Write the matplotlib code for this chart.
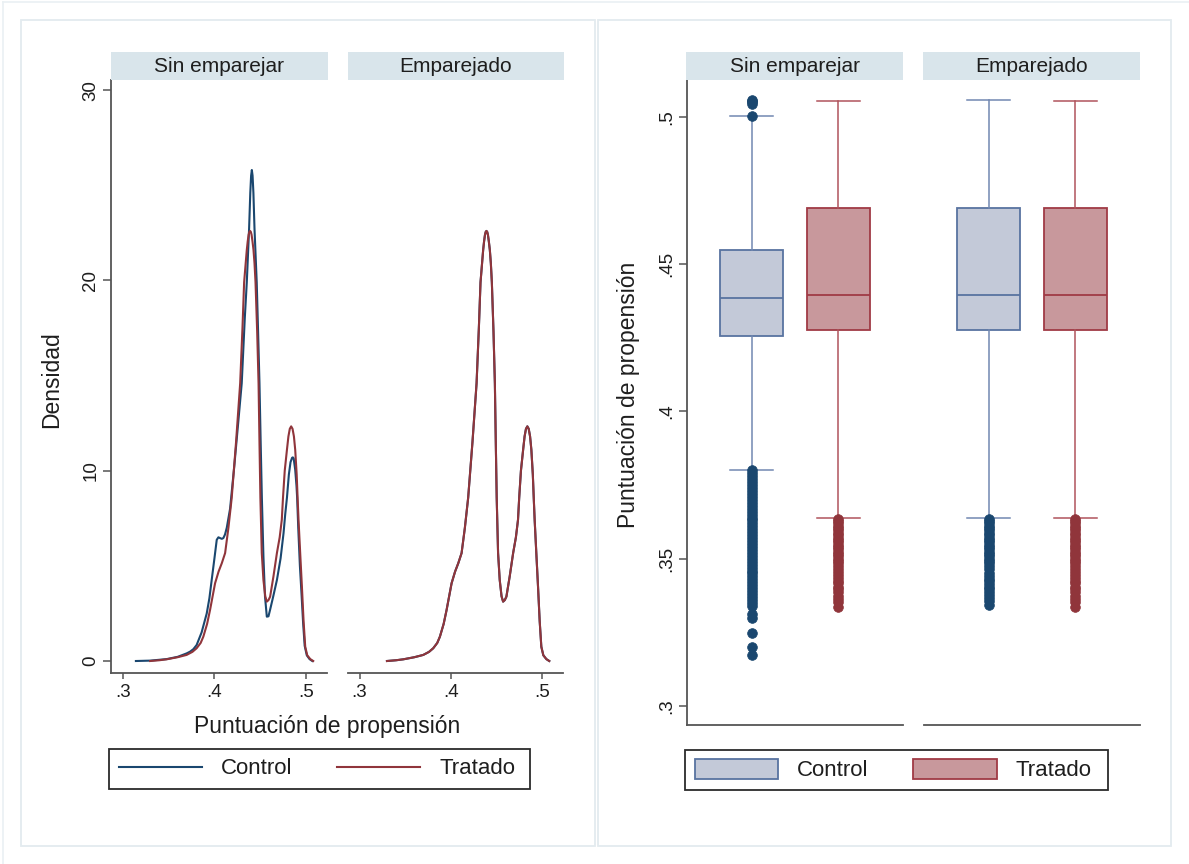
import matplotlib
matplotlib.use("Agg")
import matplotlib.pyplot as plt
from matplotlib.patches import Rectangle, Patch
from matplotlib.lines import Line2D

plt.rcParams['font.family'] = ['Liberation Sans', 'DejaVu Sans']

W, H = 1189, 864

# ---------------- data ----------------
facets = ['Sin emparejar', 'Emparejado']
groups = ['Control', 'Tratado']

dens_xticks = [0.3, 0.4, 0.5]
dens_xticklabels = ['.3', '.4', '.5']
dens_yticks = [0, 10, 20, 30]
dens_yticklabels = ['0', '10', '20', '30']

box_yticks = [0.3, 0.35, 0.4, 0.45, 0.5]
box_yticklabels = ['.3', '.35', '.4', '.45', '.5']

# kernel density, treated (same curve in both facets)
treated_x = [0.3300, 0.3400, 0.3480, 0.3600, 0.3697, 0.3760, 0.3806, 0.3850, 0.3879,
             0.3920, 0.3952, 0.3980, 0.4007, 0.4045, 0.4080, 0.4116, 0.4152, 0.4188,
             0.4235, 0.4280, 0.4305, 0.4323, 0.4340, 0.4352, 0.4362, 0.4372, 0.4380,
             0.4388, 0.4396, 0.4404, 0.4414, 0.4425, 0.4436,
             0.4447, 0.4465, 0.4480, 0.4490, 0.4500, 0.4515, 0.4533, 0.4553, 0.4570,
             0.4588, 0.4606, 0.4642, 0.4680, 0.4710, 0.4733, 0.4746, 0.4765, 0.4789,
             0.4805, 0.4820, 0.4835, 0.4850, 0.4865, 0.4879, 0.4895, 0.4905, 0.4915,
             0.4935, 0.4952, 0.4970, 0.4988, 0.5010, 0.5043, 0.5075]
treated_y = [0.00, 0.04, 0.09, 0.20, 0.32, 0.48, 0.67, 0.95, 1.28,
             1.95, 2.68, 3.40, 4.09, 4.70, 5.14, 5.67, 7.00, 8.58,
             11.50, 14.60, 17.50, 19.90, 20.90, 21.60, 22.05, 22.40, 22.55,
             22.60, 22.55, 22.40, 22.05, 21.60, 20.90,
             19.90, 17.30, 14.60, 11.50, 8.58, 5.68, 4.26, 3.40, 3.12,
             3.20, 3.38, 4.44, 5.68, 6.50, 7.42, 8.58, 10.00, 11.10,
             11.80, 12.20, 12.33, 12.20, 11.80, 11.10, 9.80, 8.58, 7.42,
             5.50, 3.90, 2.10, 0.75, 0.30, 0.10, 0.00]

# kernel density, control before matching
control_unm_x = [0.3145, 0.3300, 0.3480, 0.3600, 0.3697, 0.3734, 0.3770, 0.3806, 0.3860,
                 0.3916, 0.3945, 0.3970, 0.4000, 0.4025, 0.4043, 0.4061, 0.4080, 0.4097,
                 0.4115, 0.4134, 0.4170, 0.4215, 0.4260, 0.4297, 0.4330, 0.4352, 0.4377,
                 0.4390, 0.4399, 0.4407, 0.4415, 0.4424, 0.4436, 0.4460, 0.4475, 0.4490,
                 0.4503, 0.4516,
                 0.4533, 0.4550, 0.4570, 0.4588, 0.4605, 0.4640, 0.4680, 0.4720, 0.4752,
                 0.4770, 0.4789, 0.4810, 0.4828, 0.4845, 0.4853, 0.4862, 0.4879, 0.4893,
                 0.4900, 0.4912, 0.4930, 0.4948, 0.4965, 0.4982, 0.5005, 0.5035, 0.5065]
control_unm_y = [0.00, 0.02, 0.10, 0.22, 0.40, 0.49, 0.62, 0.84, 1.50,
                 2.50, 3.30, 4.26, 5.40, 6.37, 6.50, 6.46, 6.42, 6.46,
                 6.65, 7.00, 8.00, 10.20, 12.60, 14.60, 18.00, 19.90, 22.70,
                 24.60, 25.50, 25.80, 25.50, 24.60, 22.70, 19.90, 17.30, 14.60,
                 11.50, 8.58,
                 5.50, 3.40, 2.33, 2.35, 2.68, 3.40, 4.26, 5.40, 6.72,
                 7.70, 8.58, 9.80, 10.45, 10.68, 10.70, 10.65, 10.05, 9.20,
                 8.58, 7.00, 5.00, 3.50, 2.00, 0.80, 0.30, 0.10, 0.00]

# kernel density, control after matching (coincides with treated)
control_mat_x = treated_x
control_mat_y = treated_y

# box plot summaries: [facet][group]
box_q1 = [[0.4255, 0.4276], [0.4276, 0.4276]]
box_med = [[0.4387, 0.4396], [0.4396, 0.4396]]
box_q3 = [[0.4550, 0.4691], [0.4691, 0.4691]]
box_whislo = [[0.3802, 0.3640], [0.3640, 0.3640]]
box_whishi = [[0.5002, 0.5054], [0.5058, 0.5054]]

fliers_control_unm = [0.5058, 0.5055, 0.5050, 0.5043, 0.5004,
                      0.3800, 0.3790, 0.3780, 0.3770, 0.3760, 0.3750, 0.3740, 0.3730,
                      0.3720, 0.3710, 0.3700, 0.3690, 0.3680, 0.3670, 0.3660, 0.3650,
                      0.3640, 0.3630, 0.3620, 0.3610, 0.3600, 0.3590, 0.3580, 0.3570,
                      0.3560, 0.3550, 0.3540, 0.3530, 0.3520, 0.3510, 0.3500, 0.3490,
                      0.3480, 0.3470, 0.3460, 0.3450, 0.3440, 0.3430, 0.3420, 0.3410,
                      0.3400, 0.3390, 0.3380, 0.3370, 0.3360, 0.3350, 0.3340,
                      0.3313, 0.3298, 0.3248, 0.3199, 0.3172]
fliers_treated = [0.3636, 0.3628, 0.3620, 0.3612, 0.3604, 0.3596, 0.3588, 0.3580,
                  0.3572, 0.3564, 0.3556, 0.3548, 0.3540, 0.3532, 0.3524, 0.3516,
                  0.3508, 0.3500, 0.3492, 0.3484, 0.3476, 0.3466, 0.3456, 0.3445,
                  0.3436, 0.3426, 0.3418, 0.3405, 0.3396, 0.3388, 0.3375, 0.3362,
                  0.3352, 0.3336]
fliers_control_mat = [0.3636, 0.3628, 0.3620, 0.3612, 0.3604, 0.3596, 0.3588, 0.3580,
                      0.3572, 0.3564, 0.3556, 0.3548, 0.3540, 0.3532, 0.3524, 0.3516,
                      0.3508, 0.3500, 0.3492, 0.3484, 0.3476, 0.3466, 0.3450, 0.3440,
                      0.3432, 0.3424, 0.3414, 0.3404, 0.3396, 0.3388, 0.3378, 0.3368,
                      0.3358, 0.3342]
box_fliers = [[fliers_control_unm, fliers_treated], [fliers_control_mat, fliers_treated]]

# ---------------- styles ----------------
navy = '#1A476F'
maroon = '#90353B'
ctrl_fill, ctrl_edge, ctrl_whisk = '#C3C9D8', '#5873A0', '#7288B2'
trt_fill, trt_edge, trt_whisk = '#C8989C', '#A03A45', '#B0545C'
strip_color = '#D9E5EB'
axis_color = '#555555'
text_color = '#1E1E1E'
panel_edge = '#E3EBEF'

TICK_FS = 13.5
TITLE_FS = 16.5
STRIP_FS = 15
LEG_FS = 16

fig = plt.figure(figsize=(W / 100, H / 100), dpi=100)
fig.patch.set_facecolor('white')


def rect(x0, y0, x1, y1):
    return [x0 / W, 1 - y1 / H, (x1 - x0) / W, (y1 - y0) / H]


def fig_rect(x0, y0, x1, y1, **kw):
    r = Rectangle((x0 / W, 1 - y1 / H), (x1 - x0) / W, (y1 - y0) / H,
                  transform=fig.transFigure, **kw)
    fig.patches.append(r)
    return r


# outer faint border lines and two panel frames
fig.add_artist(Line2D([3 / W, 3 / W], [0, 1 - 2 / H], transform=fig.transFigure,
                      color='#EAF0F3', lw=1.2))
fig.add_artist(Line2D([3 / W, 1], [1 - 2 / H, 1 - 2 / H], transform=fig.transFigure,
                      color='#EAF0F3', lw=1.2))
fig_rect(21, 20, 595, 846, fill=False, ec=panel_edge, lw=1.3)
fig_rect(598, 20, 1171, 846, fill=False, ec=panel_edge, lw=1.3)


def strip(x0, x1, label):
    fig_rect(x0, 52, x1, 80, facecolor=strip_color, edgecolor='none')
    fig.text((x0 + x1) / 2 / W, 1 - 66.5 / H, label, ha='center', va='center',
             fontsize=STRIP_FS, color=text_color)


def style_axis(ax, left=True):
    for s in ['top', 'right']:
        ax.spines[s].set_visible(False)
    ax.spines['left'].set_visible(left)
    for s in ['left', 'bottom']:
        ax.spines[s].set_color(axis_color)
        ax.spines[s].set_linewidth(1.3)
    ax.tick_params(colors=axis_color, labelcolor=text_color, labelsize=TICK_FS)
    ax.set_facecolor('none')


# ---------------- left: densities ----------------
dens_pos = [(111, 327), (348, 563)]
dens_curves = [[(control_unm_x, control_unm_y), (treated_x, treated_y)],
               [(control_mat_x, control_mat_y), (treated_x, treated_y)]]
for i, (x0, x1) in enumerate(dens_pos):
    ax = fig.add_axes(rect(x0, 80, x1, 673))
    style_axis(ax, left=(i == 0))
    (cx, cy), (tx, ty) = dens_curves[i]
    ax.plot(cx, cy, color=navy, lw=1.5, solid_joinstyle='round')
    ax.plot(tx, ty, color=maroon, lw=1.5, solid_joinstyle='round')
    ax.set_xlim(0.2874, 0.5225)
    ax.set_ylim(-0.63, 30.53)
    ax.set_xticks(dens_xticks)
    ax.set_xticklabels(dens_xticklabels)
    ax.tick_params(axis='x', length=4.5, width=1.1, pad=3.5)
    if i == 0:
        ax.set_yticks(dens_yticks)
        ax.set_yticklabels(dens_yticklabels, rotation=90, va='center')
        ax.tick_params(axis='y', length=5.5, width=1.1, pad=3.0)
    else:
        ax.set_yticks([])
    strip(x0, x1 + 1, facets[i])

fig.text(52 / W, 1 - 380 / H, 'Densidad', rotation=90, ha='center', va='center',
         fontsize=TITLE_FS, color=text_color)
fig.text(327 / W, 1 - 727 / H, 'Puntuación de propensión', ha='center', va='center',
         fontsize=TITLE_FS, color=text_color)

# legend (left)
fig_rect(109, 749, 530, 789, facecolor='white', edgecolor='#2B2B2B', lw=1.3)
dens_handles = [Line2D([], [], color=navy, lw=1.5), Line2D([], [], color=maroon, lw=1.5)]
fig.legend(dens_handles, groups, loc='center left',
           bbox_to_anchor=(119 / W, 1 - 769 / H), ncol=2, frameon=False,
           fontsize=LEG_FS, handlelength=3.75, handletextpad=0.85,
           columnspacing=2.0, borderpad=0, borderaxespad=0,
           labelcolor=text_color)

# ---------------- right: box plots ----------------
box_pos = [(687, 903), (924, 1140)]
positions = [0.30, 0.70]
fill_cols = [ctrl_fill, trt_fill]
edge_cols = [ctrl_edge, trt_edge]
whisk_cols = [ctrl_whisk, trt_whisk]
dot_cols = [navy, maroon]
for i, (x0, x1) in enumerate(box_pos):
    ax = fig.add_axes(rect(x0, 80, x1, 725))
    style_axis(ax, left=(i == 0))
    for g in range(2):
        stats = [dict(med=box_med[i][g], q1=box_q1[i][g], q3=box_q3[i][g],
                      whislo=box_whislo[i][g], whishi=box_whishi[i][g],
                      fliers=box_fliers[i][g])]
        ax.bxp(stats, positions=[positions[g]], widths=0.293, patch_artist=True,
               manage_ticks=False, capwidths=0.2,
               boxprops=dict(facecolor=fill_cols[g], edgecolor=edge_cols[g], lw=1.3),
               medianprops=dict(color=edge_cols[g], lw=1.3),
               whiskerprops=dict(color=whisk_cols[g], lw=1.1),
               capprops=dict(color=whisk_cols[g], lw=1.1),
               flierprops=dict(marker='o', markerfacecolor=dot_cols[g],
                               markeredgecolor=dot_cols[g], markersize=7.0,
                               markeredgewidth=0.5, linestyle='none'))
    ax.set_xlim(0, 1)
    ax.set_ylim(0.29355, 0.51256)
    ax.set_xticks([])
    if i == 0:
        ax.set_yticks(box_yticks)
        ax.set_yticklabels(box_yticklabels, rotation=90, va='center')
        ax.tick_params(axis='y', length=5.5, width=1.1, pad=3.0)
    else:
        ax.set_yticks([])
    strip(x0 - 1, x1, facets[i])

fig.text(628 / W, 1 - 395 / H, 'Puntuación de propensión', rotation=90,
         ha='center', va='center', fontsize=TITLE_FS, color=text_color)

# legend (right)
fig_rect(685, 750, 1108, 790, facecolor='white', edgecolor='#2B2B2B', lw=1.3)
box_handles = [Patch(facecolor=ctrl_fill, edgecolor=ctrl_edge, lw=1.3),
               Patch(facecolor=trt_fill, edgecolor=trt_edge, lw=1.3)]
fig.legend(box_handles, groups, loc='center left',
           bbox_to_anchor=(695 / W, 1 - 770 / H), ncol=2, frameon=False,
           fontsize=LEG_FS, handlelength=3.75, handleheight=1.0,
           handletextpad=0.85, columnspacing=2.0, borderpad=0, borderaxespad=0,
           labelcolor=text_color)

fig.savefig('out.png', dpi=100, facecolor='white')
